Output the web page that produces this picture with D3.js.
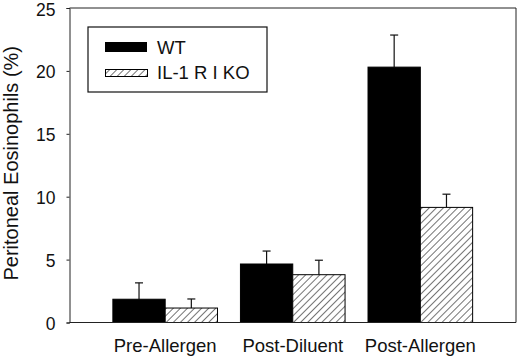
<!DOCTYPE html>
<html>
<head>
<meta charset="utf-8">
<script src="https://cdn.jsdelivr.net/npm/d3@7"></script>
<style>
  body { margin: 0; background: #fff; }
  svg { display: block; font-family: "Liberation Sans", Arial, sans-serif; }
</style>
</head>
<body>
<div id="chart"></div>
<script>
// values
const categories = ["Pre-Allergen", "Post-Diluent", "Post-Allergen"];
const series = ["WT", "IL-1 R I KO"];
const wtMean = [1.85, 4.65, 20.3];
const wtErr = [1.3, 1.03, 2.55];
const koMean = [1.15, 3.8, 9.15];
const koErr = [0.72, 1.15, 1.05];
const yTicks = [0, 5, 10, 15, 20, 25];

const width = 520, height = 358;
const margin = {top: 8, right: 4, bottom: 35.5, left: 69.5};
const font = "Liberation Sans, Arial, sans-serif";

let svg = d3.select("#chart").append("svg")
    .attr("width", width)
    .attr("height", height);

// hatch pattern for the KO bars
let defs = svg.append("defs");
defs.append("pattern")
    .attr("id", "hatch")
    .attr("patternUnits", "userSpaceOnUse")
    .attr("width", 5)
    .attr("height", 5)
    .attr("patternTransform", "rotate(45)")
    .call(p => {
        p.append("rect").attr("width", 5).attr("height", 5).attr("fill", "#fff");
        p.append("line")
            .attr("x1", 0).attr("y1", 0).attr("x2", 0).attr("y2", 5)
            .attr("stroke", "#000").attr("stroke-width", 1.1);
    });

const x0 = d3.scaleBand()
    .domain(categories)
    .range([margin.left, width - margin.right])
    .paddingInner(0.18)
    .paddingOuter(0.34);

const x1 = d3.scaleBand()
    .domain(series)
    .range([0, x0.bandwidth()]);

const y = d3.scaleLinear()
    .domain([0, 25])
    .range([height - margin.bottom, margin.top]);

const rows = [];
categories.forEach(function (c, i) {
    rows.push({cat: c, s: series[0], mean: wtMean[i], err: wtErr[i]});
    rows.push({cat: c, s: series[1], mean: koMean[i], err: koErr[i]});
});

// frame (top and right)
svg.append("path")
    .attr("d", "M" + margin.left + "," + y(25) + "H" + (width - margin.right) + "V" + y(0))
    .attr("fill", "none")
    .attr("stroke", "#222")
    .attr("stroke-width", 1);

// error bars, drawn before bars so the stem starts at the bar top
let eb = svg.selectAll(".err")
    .data(rows).enter()
    .append("g")
    .classed("err", true)
    .attr("transform", d => "translate(" + (x0(d.cat) + x1(d.s) + x1.bandwidth() / 2) + ",0)");

eb.append("line")
    .attr("x1", 0).attr("x2", 0)
    .attr("y1", d => y(d.mean))
    .attr("y2", d => y(d.mean + d.err))
    .attr("stroke", "#111").attr("stroke-width", 1.2);

eb.append("line")
    .attr("x1", -4).attr("x2", 4)
    .attr("y1", d => y(d.mean + d.err))
    .attr("y2", d => y(d.mean + d.err))
    .attr("stroke", "#111").attr("stroke-width", 1.2);

svg.selectAll(".bar")
    .data(rows).enter()
    .append("rect")
    .classed("bar", true)
    .attr("x", d => x0(d.cat) + x1(d.s))
    .attr("y", d => y(d.mean))
    .attr("width", x1.bandwidth())
    .attr("height", d => y(0) - y(d.mean))
    .attr("fill", d => d.s === "WT" ? "#000" : "url(#hatch)")
    .attr("stroke", "#000")
    .attr("stroke-width", 1);

// axes
svg.append("g")
    .attr("transform", "translate(" + margin.left + ",0)")
    .call(d3.axisLeft(y).tickValues(yTicks).tickSize(3).tickPadding(11))
    .call(g => g.selectAll("text").attr("font-size", 17.5).attr("dy", "0.4em").attr("font-family", font).attr("fill", "#111"))
    .call(g => g.selectAll("line, path").attr("stroke", "#222"));

svg.append("g")
    .attr("transform", "translate(0," + y(0) + ")")
    .call(d3.axisBottom(x0).tickSize(0).tickPadding(16).tickSizeOuter(0))
    .call(g => g.selectAll("text").attr("font-size", 18.5).attr("font-family", font).attr("fill", "#111"))
    .call(g => g.select(".domain").attr("d", "M" + margin.left + ",0H" + (width - margin.right)).attr("stroke", "#222"));

svg.append("text")
    .attr("transform", "translate(17.5," + (y(12.5) - 2) + ") rotate(-90)")
    .attr("text-anchor", "middle")
    .attr("font-size", 20)
    .attr("fill", "#111")
    .text("Peritoneal Eosinophils (%)");

// legend
let legend = svg.append("g").attr("transform", "translate(88,27)");
legend.append("rect")
    .attr("width", 179).attr("height", 65)
    .attr("fill", "#fff").attr("stroke", "#111").attr("stroke-width", 1.2);

legend.append("rect")
    .attr("x", 17).attr("y", 15).attr("width", 42).attr("height", 10)
    .attr("fill", "#000");
legend.append("rect")
    .attr("x", 17.5).attr("y", 42.5).attr("width", 42).attr("height", 7)
    .attr("fill", "url(#hatch)").attr("stroke", "#000").attr("stroke-width", 1);

legend.selectAll(".ltext")
    .data(series).enter()
    .append("text")
    .attr("x", 69)
    .attr("y", (d, i) => 26.5 + i * 25)
    .attr("font-size", 18.5)
    .attr("fill", "#111")
    .text(d => d);
</script>
</body>
</html>
